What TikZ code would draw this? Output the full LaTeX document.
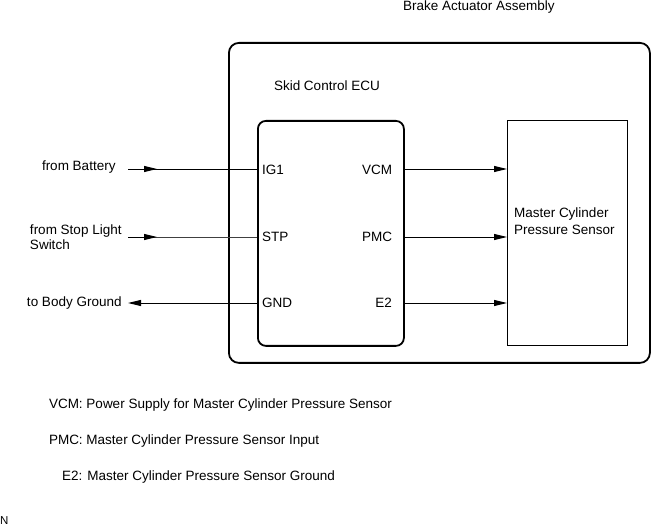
\documentclass[tikz,border=0pt]{standalone}
\usepackage{fontspec}
\setmainfont{Liberation Sans}
\usetikzlibrary{arrows.meta}
\begin{document}
\begin{tikzpicture}[x=1pt,y=-1pt,
  font=\fontsize{13.5}{16}\selectfont,
  txt/.style={inner sep=0pt, outer sep=0pt},
  wire/.style={line width=0.9pt},
  tip/.style={-{Triangle[length=13pt,width=6pt]}},
  bigbox/.style={draw, line width=1.8pt, inner sep=0pt, anchor=north west},
]
\useasboundingbox (0,0) rectangle (651,529);

% boxes
\node[bigbox, rounded corners=10pt, minimum width=421pt, minimum height=320pt] (assy) at (228,42) {};
\node[bigbox, rounded corners=8pt, minimum width=146pt, minimum height=225pt] (ecu) at (257,120) {};
\node[bigbox, line width=1pt, minimum width=120pt, minimum height=225pt] (sensor) at (507,120) {};

% titles
\node[txt, anchor=west] (assyt) at (403,7) {Brake Actuator Assembly};
\node[txt, anchor=west] (ecut) at (274,86) {Skid Control ECU};
\node[txt, anchor=north west, align=left, font=\fontsize{13.5}{17}\selectfont] (sent) at (514,208) {Master Cylinder\\Pressure Sensor};

% pins
\node[txt, anchor=west] (ig1) at (262,170) {IG1};
\node[txt, anchor=west] (stp) at (262,237) {STP};
\node[txt, anchor=west] (gnd) at (262,303) {GND};
\node[txt, anchor=east] (vcm) at (392,170) {VCM};
\node[txt, anchor=east] (pmc) at (392,237) {PMC};
\node[txt, anchor=east] (e2) at (392,303) {E2};

% external labels
\node[txt, anchor=west] (batt) at (42,167) {from Battery};
\node[txt, anchor=west, align=left, font=\fontsize{13.5}{15}\selectfont] (stopt) at (30,237) {from Stop Light\\Switch};
\node[txt, anchor=west] (bodyt) at (27,303) {to Body Ground};

% wire free ends
\coordinate (batS) at (128,169);
\coordinate (batA) at (157,169);
\coordinate (stpS) at (128,237);
\coordinate (stpA) at (157,237);
\coordinate (gndE) at (128,303);

% left wires
\draw[wire] (batS) -- (ecu.west |- batS);
\draw[wire, tip] (batS) -- (batA);
\draw[wire, black!75] (stpS) -- (ecu.west |- stpS);
\draw[wire, tip] (stpS) -- (stpA);
\draw[wire, tip] (ecu.west |- gndE) -- (gndE);

% right wires
\draw[wire, tip] (ecu.east |- batS) -- (sensor.west |- batS);
\draw[wire, tip] (ecu.east |- stpS) -- (sensor.west |- stpS);
\draw[wire, tip] (ecu.east |- gndE) -- (sensor.west |- gndE);

% legend
\node[txt, anchor=west] (l1) at (49,405) {VCM: Power Supply for Master Cylinder Pressure Sensor};
\node[txt, anchor=west] (l2) at (49,441) {PMC: Master Cylinder Pressure Sensor Input};
\node[txt, anchor=west] (l3) at (62,477) {E2: Master Cylinder Pressure Sensor Ground};
\node[txt, anchor=west, font=\fontsize{11.5}{13}\selectfont] (n) at (0,521) {N};
\end{tikzpicture}
\end{document}
